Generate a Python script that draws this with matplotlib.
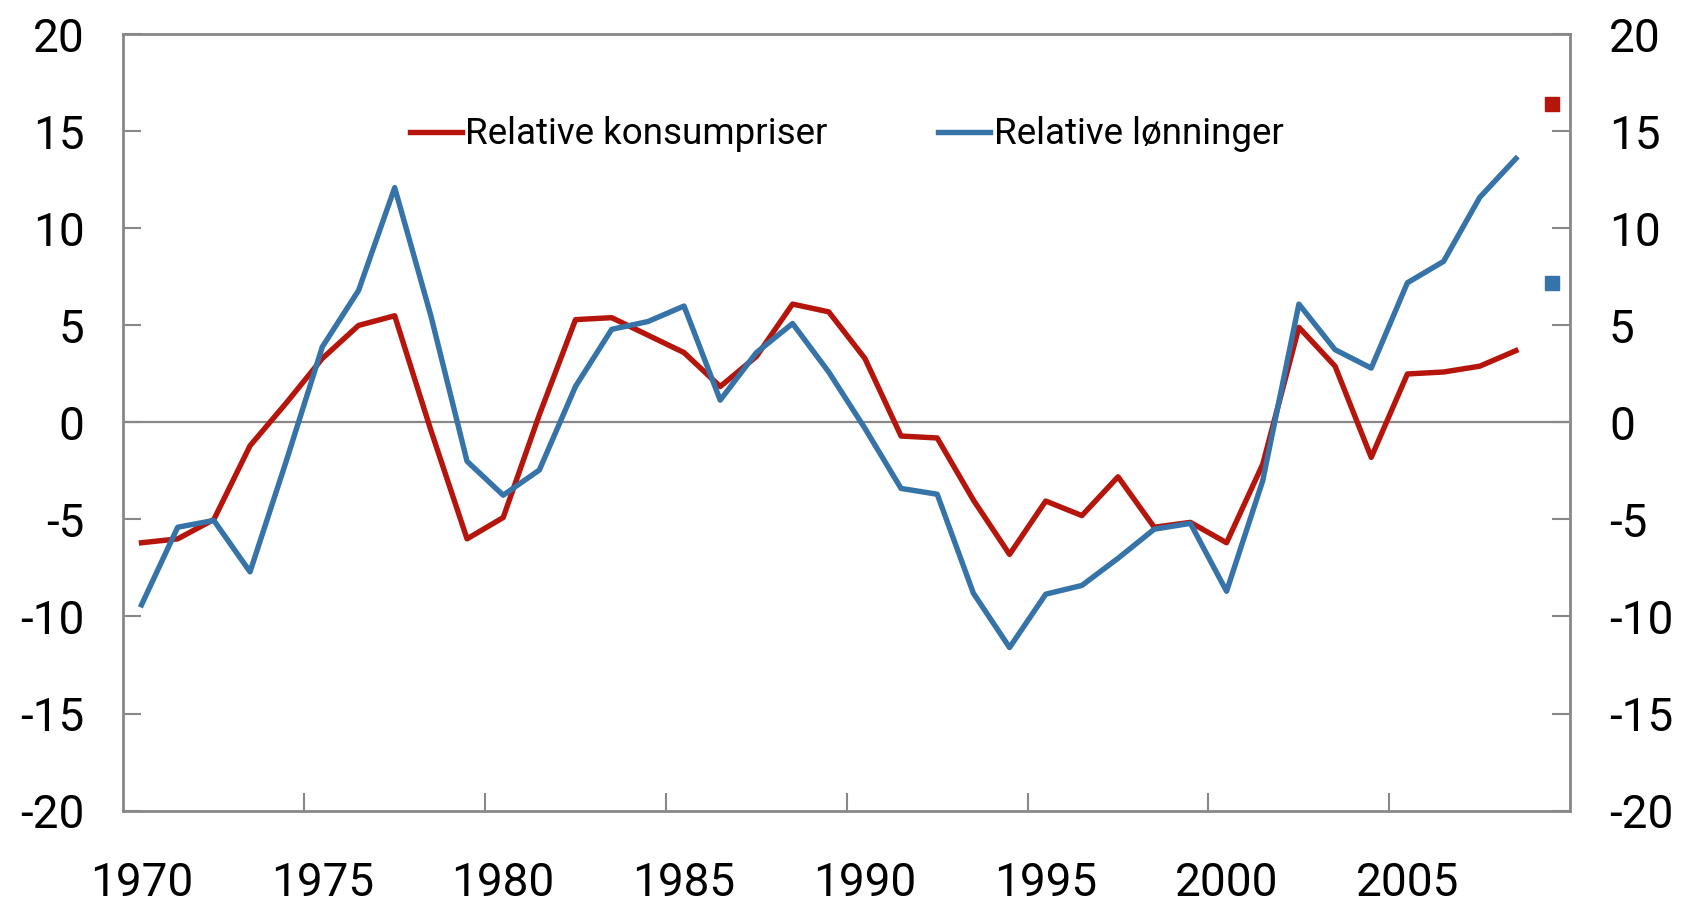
import numpy as np
import matplotlib
matplotlib.use('Agg')
import matplotlib.pyplot as plt

plt.rcParams['font.family'] = ['Roboto', 'DejaVu Sans']
plt.rcParams['axes.unicode_minus'] = False

years = list(range(1970, 2009))
# Relative konsumpriser
konsumpriser = [-6.2, -6.0, -5.0, -1.2, 1.0, 3.3, 5.0, 5.5, -0.4, -6.0,
                -4.9, 0.4, 5.3, 5.4, 4.5, 3.6, 1.85, 3.4, 6.1, 5.7,
                3.3, -0.7, -0.8, -4.0, -6.8, -4.05, -4.8, -2.8, -5.4, -5.15,
                -6.2, -2.15, 4.9, 2.9, -1.8, 2.5, 2.6, 2.9, 3.7]
# Relative lønninger
lonninger = [-9.4, -5.4, -5.05, -7.7, -2.0, 3.9, 6.8, 12.1, 5.5, -2.0,
             -3.75, -2.45, 1.86, 4.8, 5.2, 6.0, 1.15, 3.6, 5.1, 2.6,
             -0.3, -3.4, -3.7, -8.8, -11.6, -8.85, -8.4, -7.0, -5.5, -5.2,
             -8.7, -3.0, 6.1, 3.75, 2.8, 7.2, 8.3, 11.6, 13.6]
year_2009 = 2009
konsum_2009 = 16.4
lonn_2009 = 7.2

red = '#B5150B'
blue = '#3573A8'
grey = '#888888'

fig = plt.figure(figsize=(16.84, 9.05), dpi=100)
ax = fig.add_axes([0.0733, 0.1044, 0.8591, 0.8576])

ax.axhline(0, color=grey, lw=1.6, zorder=1)
ax.plot(years, konsumpriser, color=red, lw=3.9, label='Relative konsumpriser', zorder=3)
ax.plot(years, lonninger, color=blue, lw=3.9, label='Relative lønninger', zorder=3)
ax.plot([year_2009], [konsum_2009], 's', color=red, ms=10)
ax.plot([year_2009], [lonn_2009], 's', color=blue, ms=10)

ax.set_xlim(1969.5, 2009.5)
ax.set_ylim(-20, 20)
ax.set_yticks(np.arange(-20, 21, 5))

# ticks between categories, labels on the years
ax.set_xticks(np.arange(1974.5, 2005, 5))
ax.set_xticklabels([])
ax.set_xticks(np.arange(1970, 2009, 5), minor=True)
ax.set_xticklabels([str(y) for y in range(1970, 2009, 5)], minor=True)
ax.tick_params(axis='x', which='major', direction='in', length=13, width=1.5, color=grey)
ax.tick_params(axis='x', which='minor', length=0, pad=36, labelsize=33)

ax.tick_params(axis='y', direction='in', length=13, width=1.5, color=grey,
               labelsize=33, pad=28, right=True, labelright=True)

for s in ax.spines.values():
    s.set_color(grey)
    s.set_linewidth(2)

ax.legend(loc='upper center', bbox_to_anchor=(0.5, 0.937), ncol=2, frameon=False,
          fontsize=26.5, handlelength=1.4, handletextpad=0.1, columnspacing=3.0)

fig.savefig('out.png', dpi=100)
